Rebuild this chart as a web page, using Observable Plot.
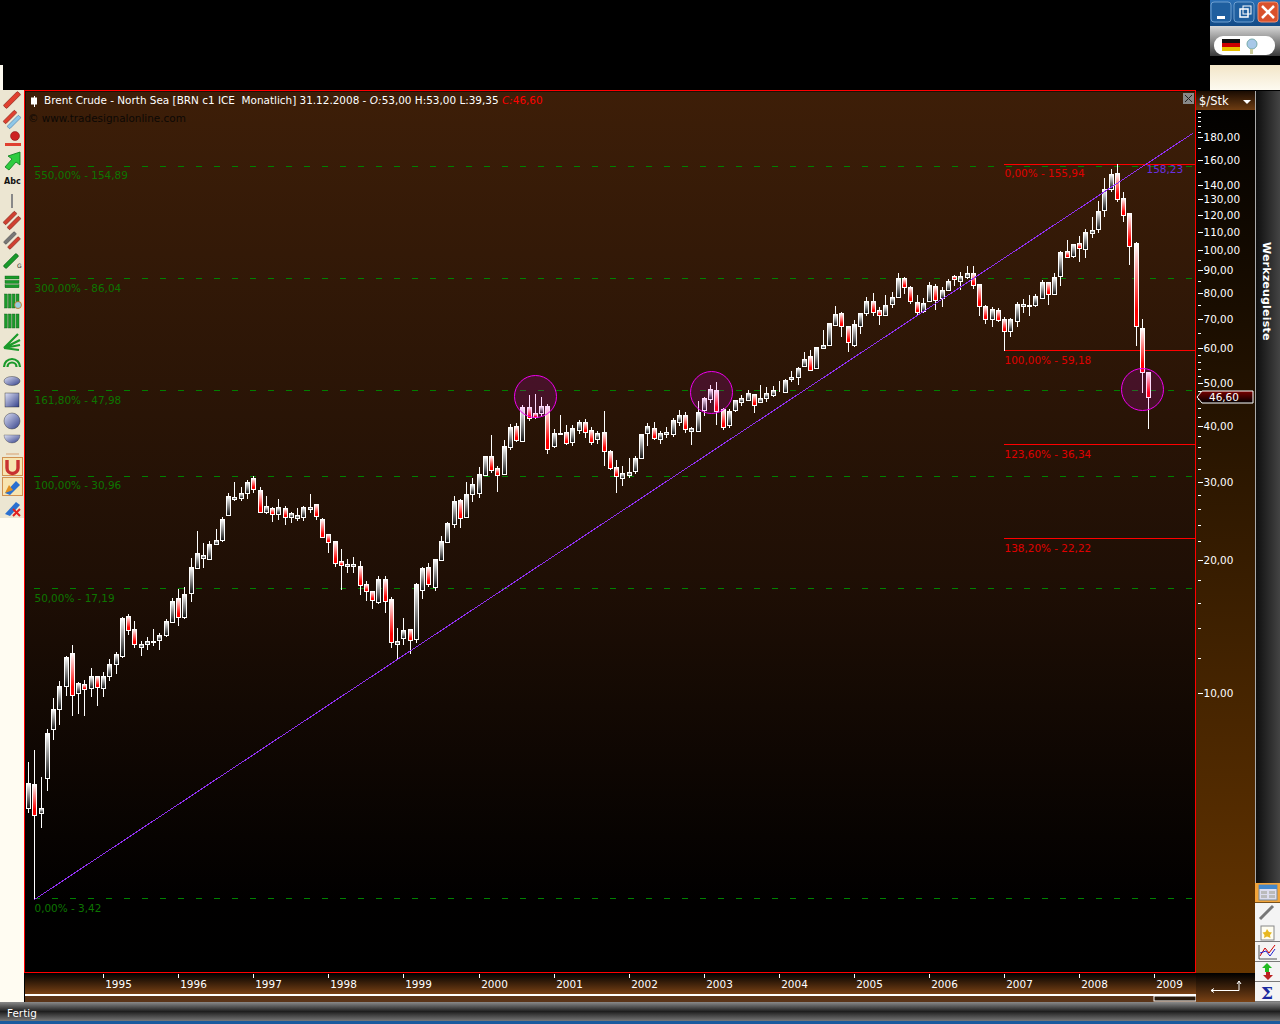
<!DOCTYPE html>
<html><head><meta charset="utf-8">
<script src="https://cdn.jsdelivr.net/npm/d3@7"></script>
<script src="https://cdn.jsdelivr.net/npm/@observablehq/plot@0.6"></script>
<style>
html,body{margin:0;padding:0;background:#000;width:1280px;height:1024px;overflow:hidden}
#wrap{position:relative;width:1280px;height:1024px;font-family:"DejaVu Sans",sans-serif}
#wrap svg{position:absolute;left:0;top:0}
.lbl{position:absolute;white-space:pre;font:10.45px "DejaVu Sans",sans-serif;color:#fff}
</style></head><body>
<div id="wrap">
<svg id="chrome" width="1280" height="1024"></svg>
<div id="plot"></div>
<div class="lbl" style="left:44px;top:94px" id="title"></div>
<div class="lbl" style="left:28px;top:112px;color:#0c0805" id="mark"></div>
</div>
<script>
const title = "Brent Crude - North Sea [BRN c1 ICE  Monatlich] 31.12.2008 - ";
const ohlcLabels = [["O:","53,00 "],["H:","53,00 "],["L:","39,35 "]];
const closeLabel = "C:46,60";
const watermark = "© www.tradesignalonline.com";
const opens = [5.51,6.22,5.37,6.44,8.28,9.19,10.39,12.29,9.98,10.46,10.25,10.9,10.25,10.9,11.61,12.14,14.9,13.92,12.72,12.88,13.06,13.15,13.54,14.49,16.36,14.87,16.79,19.18,20.21,20.1,21.69,22.19,25.27,27.46,27.6,28.23,30.57,28.77,25.66,26.11,25.31,26.11,25.01,24.88,24.92,
26.07,26.66,24.66,22.81,22,19.83,19.38,19.38,19.32,17.59,16.96,16.02,18.05,16.27,12.92,13.29,13.92,13.26,17.05,19.22,17.38,19.96,21.96,24.03,27.22,25.01,28.18,28.33,31.11,34.22,32.15,31.27,35.98,39.99,37.12,44.14,42.79,42.93,44.37,36.17,38.36,38.76,36.93,39.17,40.83,
39.24,37.51,38.76,35.12,32.32,30.63,31,31.76,33.92,38.7,39.58,37.51,38.49,38.49,40.97,42.34,39.03,39.1,43.61,46.18,48.22,43.84,40.34,43.61,45.38,45.94,47.23,45.38,46.42,47.15,47.97,47.89,51.23,51.77,54.82,57.54,54.25,60.19,61.14,67.83,71.95,67.25,61.14,67.48,71.95,
76.71,73.08,71.21,75.4,78.46,86.31,82.36,76.45,72.7,76.58,82.79,77.78,81.37,87.51,85.27,87.06,88.58,83.66,74.62,69.74,73.08,69.74,65.52,69.26,74.88,74.88,75.01,78.05,84.53,79.69,87.21,99.31,97.1,103.53,100.7,109.43,111.34,123.32,137.07,148.96,130.81,121,103.53,66.55,53];
const highs = [7,7.44,6.47,8.29,9.76,10.64,12.12,12.83,10.57,10.7,11.37,10.9,11.13,11.93,12.38,14.84,15.08,14.54,13.1,13.38,13.95,13.66,14.69,16.36,17.17,17.35,20.21,23.21,21.81,22,23.45,24.96,28.28,29.94,29.18,30.2,30.89,29.18,27.84,26.29,27.41,26.43,25.66,26.11,26.48,
28.13,26.71,24.79,22.85,22.04,21.14,20.07,20.28,19.86,17.9,16.99,18.37,18.37,16.44,14.02,14.77,13.95,17.68,19.22,19.69,20.03,22.62,24.28,27.84,27.41,29.94,30.63,32.37,34.28,38.23,32.48,37.25,40.48,40.69,44.6,47.06,47.31,46.58,44.91,39.37,42.42,40.27,40.2,41.33,41.47,
39.85,39.03,43.31,35.36,33.57,32.54,33.92,34.28,38.43,40.69,40.83,39.03,39.85,41.76,43.53,43.01,39.78,45.62,46.66,49.49,50.35,44.06,43.68,45.86,47.06,48.22,47.39,49.49,49.06,49.32,50.62,51.15,53.22,54.44,58.75,59.47,60.3,65.98,68.42,74.75,72.33,67.48,69.38,72.2,78.46,
79.97,74.49,79.28,80.25,88.73,87.06,82.93,79.14,77.78,84.53,83.8,82.36,85.86,87.81,89.04,91.86,92.02,83.8,75.14,74.36,74.1,70.47,70.1,76.45,77.52,79.01,79.42,85.56,84.68,88.73,99.31,105.34,103.35,107.36,111.53,118.71,129.01,145.14,152.35,155.94,135.18,121.21,104.25,69.86,53];
const lows = [5.37,3.42,4.95,6.02,7.83,8.47,9.85,8.87,8.97,8.87,9.81,9.35,9.81,10.66,11.04,12.02,13.52,12.66,12.14,12.5,12.77,12.5,13.4,14.49,14.17,14.69,16.05,19.18,19.15,20,21.54,21.92,25.27,27.13,27.13,27.41,28.28,25.49,25.35,24.32,24.58,23.95,24.2,24.45,24.49,
25.44,24.62,22.46,20.74,19.28,17.08,18.69,18.69,16.67,16.16,15.5,15.91,15.18,12.64,11.89,12.86,12.25,12.99,16.3,17.35,17.02,19.89,21.85,23.62,23.58,24.88,26.99,27.55,30.95,31.38,28.43,31.27,35.36,36.86,37.12,41.11,41.47,42.05,34.69,35.79,38.3,36.29,36.1,38.43,37.64,
36.29,36.55,32.54,31.87,28.33,29.33,30.57,31.21,33.75,36.1,37.25,36.48,37.64,37.9,40.06,38.63,36.29,38.9,42.2,45.15,40.27,39.24,39.71,43.08,44.45,45.86,42.86,45.15,45.38,46.58,47.89,47.64,50.44,49.57,54.72,53.41,54.25,60.19,61.14,67.48,63.73,58.85,60.5,64.62,71.08,
71.08,67.83,71.21,73.85,78.05,79.56,75.4,71.08,72.2,76.32,73.21,74.23,80.95,82.93,81.23,85.86,81.79,71.08,68.19,67.13,68.78,59.18,63.73,67.13,72.2,71.08,74.49,78.05,75.14,79.69,83.08,96.26,96.09,94.12,95.93,106.44,109.43,118.92,135.42,128.11,115.87,92.66,60.82,47.47,39.35];
const closes = [6.25,5.29,5.49,8.11,9.19,10.35,12.04,9.91,10.52,10.23,10.9,10.3,10.9,11.61,12.23,14.74,13.9,12.88,12.88,13.08,13.1,13.5,14.51,16.1,14.82,16.7,19.22,20.67,20.45,21.66,22.11,24.66,27.79,27.65,28.23,29.89,28.92,25.66,26.39,25.31,26.25,25.01,25.44,25.18,26.25,
26.29,25.14,22.54,21.96,19.69,19.48,19.55,19.55,17.56,17.02,16.24,18.05,16.16,13.06,13.1,13.85,13.19,17.59,19.12,17.65,20.03,22,24.15,27.08,24.88,28.08,29.58,31.16,34.22,31.93,31.11,36.04,39.78,37.31,44.14,41.83,41.98,44.37,35.61,38.56,38.56,36.74,39.58,40.83,38.9,
36.93,38.56,35.24,32.2,30.89,31.32,31.6,33.86,38.36,39.99,37.7,38.56,38.83,41.26,42.34,39.51,39.65,43.01,46.26,48.47,43.38,39.92,43.23,45.78,46.42,47.47,44.76,46.42,47.47,48.39,48.14,50.79,51.68,54.06,56.65,53.69,60.3,60.93,68.31,71.58,67.48,62.1,67.95,71.95,76.71,
72.33,71.21,75.01,78.19,86.31,82.36,76.58,72.58,76.05,83.22,77.25,81.09,84.97,85.86,87.51,88.58,83.51,74.62,69.74,73.46,69.5,65.75,69.74,75.4,75.4,75.14,78.6,84.53,79.69,86.76,98.79,96.59,102.99,101.22,109.81,110.76,122.26,137.55,148.19,130.58,119.74,101.92,67.25,52.95,46.6];

const greenLevels = [154.89,86.04,47.98,30.96,17.19,3.42];
const greenLabels = ["550,00% - 154,89","300,00% - 86,04","161,80% - 47,98","100,00% - 30,96","50,00% - 17,19","0,00% - 3,42"];
const redLevels = [155.94,59.18,36.34,22.22];
const redLabels = ["0,00% - 155,94","100,00% - 59,18","123,60% - 36,34","138,20% - 22,22"];
const trendIdx = [1,186];
const trendVal = [3.42,184];
const circleIdx = [81.1,109.1,178.1];
const circleVal = [46.9,47.9,48.5];
const years = [1995,1996,1997,1998,1999,2000,2001,2002,2003,2004,2005,2006,2007,2008,2009];
const majorTicks = [10,20,30,40,50,60,70,80,90,100,110,120,130,140,160,180];
const minorTicks = [12,14,16,18,22,24,26,28,32,34,36,38,42,44,46,48,52,54,56,58,65,75,85,95,150,170,185,190,195,200,205];
const lastPriceLabel = "46,60";

const FONT = '"DejaVu Sans",sans-serif';
const CRISP = "crispEdges";
const candles = opens.map((o,i)=>({i,o,h:highs[i],l:lows[i],c:closes[i]}));
const ups = candles.filter(d=>d.c>=d.o), downs = candles.filter(d=>d.c<d.o);
const fmt = d=>d.toFixed(2).replace(".",",");
const yearIdx = years.map(y=>(y-1994)*12);
const pairs = (a,b)=>a.map((v,i)=>({v,t:b[i]}));
const greenRule = {x1:1,x2:186.5,stroke:"#008000",strokeWidth:1,strokeDasharray:"6,12",shapeRendering:CRISP};
const redRule = {x1:156,x2:186.5,stroke:"#ff0000",strokeWidth:1,shapeRendering:CRISP};
const sameRow = [154.89,30.96,155.94];

const body = f=>({x1:"i",x2:"i",y1:"o",y2:"c",fill:f,stroke:"#fff",strokeWidth:1,insetLeft:-2,insetRight:-2,dx:0.5,dy:0.5,shapeRendering:CRISP});

const chart = Plot.plot({
  width:1280,height:1024,
  marginLeft:25,marginRight:85,marginTop:91,marginBottom:52,
  style:{background:"transparent",fontFamily:FONT,fontSize:"10.45px",color:"#fff"},
  x:{type:"linear",domain:[-0.48,186.5],round:true},
  y:{type:"log",domain:[2.344,228.5],round:true},
  marks:[
    Plot.frame({fill:"url(#bg)",stroke:"none"}),
    Plot.ruleY(greenLevels.filter(v=>!sameRow.includes(v)),{...greenRule,dy:-1}),
    Plot.ruleY(greenLevels.filter(v=>sameRow.includes(v)),greenRule),
    Plot.text(pairs(greenLevels,greenLabels),{x:()=>1,y:"v",text:"t",dy:9,fill:"#0d7500",textAnchor:"start"}),
    Plot.ruleY(redLevels.filter(v=>!sameRow.includes(v)),{...redRule,dy:-1}),
    Plot.ruleY(redLevels.filter(v=>sameRow.includes(v)),redRule),
    Plot.text(pairs(redLevels,redLabels),{x:()=>156,y:"v",text:"t",dy:9,fill:"#e00000",textAnchor:"start"}),
    Plot.ruleX(candles,{x:"i",y1:"l",y2:"h",stroke:"#fff",strokeWidth:1,shapeRendering:CRISP}),
    Plot.rect(ups,body("url(#up)")),
    Plot.rect(downs,body("url(#dn)")),
    Plot.line(trendIdx.map((x,k)=>({x,y:trendVal[k]})),{x:"x",y:"y",stroke:"#9030f0",strokeWidth:1,shapeRendering:CRISP}),
    Plot.text(["158,23"],{x:()=>178.7,y:()=>155.94,dy:5,fill:"#6a2fe0",textAnchor:"start"}),
    Plot.dot(circleIdx.map((x,k)=>({x,y:circleVal[k]})),{x:"x",y:"y",r:21,stroke:"#f000f0",strokeWidth:1,fill:"#f000f0",fillOpacity:0.14}),
    Plot.frame({stroke:"#ff0000",strokeWidth:1,fill:"none",insetLeft:-1,insetTop:-1,shapeRendering:CRISP}),
    Plot.axisY(minorTicks,{anchor:"right",label:null,tickSize:3,tickPadding:0,tickFormat:()=>"",stroke:"#fff",dx:2,shapeRendering:CRISP}),
    Plot.axisY(majorTicks,{anchor:"right",label:null,tickSize:5,tickPadding:1,tickFormat:fmt,stroke:"#fff",fill:"#fff",dx:2,shapeRendering:CRISP}),
    Plot.axisX(yearIdx,{anchor:"bottom",label:null,tickSize:4,tickPadding:0,tickFormat:()=>"",stroke:"#fff",dy:2,shapeRendering:CRISP}),
    Plot.axisX(yearIdx,{anchor:"bottom",label:null,tickSize:0,tickPadding:8,tickFormat:i=>String(years[yearIdx.indexOf(i)]),fill:"#fff",dx:15,textAnchor:"middle"})
  ]
});
document.getElementById("plot").appendChild(chart);

document.getElementById("title").innerHTML = title +
  ohlcLabels.map(([a,b])=>(a==="O:"?`<i>${a}</i>`:a)+b).join("") +
  `<i style="color:#f00">${closeLabel.slice(0,2)}</i><span style="color:#f00">${closeLabel.slice(2)}</span>`;
document.getElementById("mark").textContent = watermark;

/* window furniture */
const R=(x,y,w,h,f,extra="")=>`<rect x="${x}" y="${y}" width="${w}" height="${h}" fill="${f}" ${extra}/>`;
const T=(x,y,s,f="#fff",size=10.45,extra="")=>`<text x="${x}" y="${y}" fill="${f}" font-family='${FONT}' font-size="${size}" ${extra}>${s}</text>`;
const L=(x1,y1,x2,y2,s,w=1)=>`<line x1="${x1}" y1="${y1}" x2="${x2}" y2="${y2}" stroke="${s}" stroke-width="${w}"/>`;
const bar=(cx,cy,c,c2="#7a1a10",len=20,th=4.6)=>`<g transform="translate(${cx} ${cy}) rotate(-45)"><rect x="${-len/2}" y="${-th/2}" width="${len}" height="${th}" rx="1" fill="${c}" stroke="${c2}" stroke-width=".6"/></g>`;
const greenBars=(cy,n=3)=>Array.from({length:n},(_,k)=>R(5,cy-6+k*4.4,14,3,"#1a9a2a",'stroke="#0a5a14" stroke-width=".4"')).join("");
const vBars=(cy)=>Array.from({length:4},(_,k)=>R(4.5+k*3.9,cy-7,2.8,14,"#1a9a2a",'stroke="#0a5a14" stroke-width=".4"')).join("");
let c=`<defs>
<linearGradient id="bg" x1="0" y1="0" x2="0" y2="1"><stop offset="0" stop-color="#3d1e08"/><stop offset=".55" stop-color="#1f0f05"/><stop offset=".92" stop-color="#010000"/><stop offset="1" stop-color="#000"/></linearGradient>
<linearGradient id="up" x1="0" y1="0" x2="0" y2="1"><stop offset="0" stop-color="#fff"/><stop offset="1" stop-color="#111"/></linearGradient>
<linearGradient id="dn" x1="0" y1="0" x2="0" y2="1"><stop offset="0" stop-color="#fff"/><stop offset=".8" stop-color="#f00"/><stop offset="1" stop-color="#f00"/></linearGradient>
<linearGradient id="axisY" x1="0" y1="0" x2="0" y2="1"><stop offset="0" stop-color="#000"/><stop offset="1" stop-color="#663500"/></linearGradient>
<linearGradient id="axisX" x1="0" y1="0" x2="0" y2="1"><stop offset="0" stop-color="#000"/><stop offset="1" stop-color="#7a4215"/></linearGradient>
<linearGradient id="head" x1="0" y1="0" x2="0" y2="1"><stop offset="0" stop-color="#1a0c02"/><stop offset="1" stop-color="#6e3c12"/></linearGradient>
<linearGradient id="side" x1="0" y1="0" x2="1" y2="0"><stop offset="0" stop-color="#0c0c0c"/><stop offset="1" stop-color="#444"/></linearGradient>
<linearGradient id="status" x1="0" y1="0" x2="0" y2="1"><stop offset="0" stop-color="#8a8a8a"/><stop offset=".5" stop-color="#1e1e1e"/><stop offset="1" stop-color="#777"/></linearGradient>
<linearGradient id="blue" x1="0" y1="0" x2="0" y2="1"><stop offset="0" stop-color="#2a6fb5"/><stop offset="1" stop-color="#124a86"/></linearGradient>
<linearGradient id="gray" x1="0" y1="0" x2="0" y2="1"><stop offset="0" stop-color="#d8d8d8"/><stop offset="1" stop-color="#3a3a3a"/></linearGradient>
<linearGradient id="cream" x1="0" y1="0" x2="0" y2="1"><stop offset="0" stop-color="#f3e6c8"/><stop offset="1" stop-color="#fdfaf0"/></linearGradient>
<linearGradient id="price" x1="0" y1="0" x2="0" y2="1"><stop offset="0" stop-color="#7a0000"/><stop offset="1" stop-color="#000"/></linearGradient>
<linearGradient id="ball" x1="0" y1="0" x2="1" y2="1"><stop offset="0" stop-color="#dfe2f5"/><stop offset="1" stop-color="#33408a"/></linearGradient>
</defs>`;
c+=R(0,0,1280,1024,"#000");
/* top strip */
c+=R(0,65,3,25,"#fdfaf0");
c+=R(1210,0,70,26,"url(#blue)");
c+=R(1210,26,70,30,"url(#gray)");
c+=R(1210,65,70,25,"url(#cream)");
c+=R(1211,2,20,20,"#1f5f9f",'rx="3" stroke="#6fa0d0"')+R(1217,16,8,3,"#fff");
c+=R(1234,2,20,20,"#1f5f9f",'rx="3" stroke="#6fa0d0"')+R(1240,9,8,8,"none",'stroke="#fff" stroke-width="1.5"')+R(1243,6,8,8,"none",'stroke="#fff" stroke-width="1"');
c+=R(1258,2,20,20,"#d9512c",'rx="3" stroke="#f09070"')+L(1262,6,1274,18,"#fff",2.5)+L(1274,6,1262,18,"#fff",2.5);
c+=R(1214,36,61,19,"#fff",'rx="9"');
c+=R(1222,39,18,4,"#111")+R(1222,43,18,4,"#c00")+R(1222,47,18,4,"#e8c000");
c+=`<circle cx="1252" cy="44" r="5" fill="#a8c8e8" stroke="#7aa"/>`+R(1250,49,3,5,"#cc9");
/* left toolbar */
c+=R(0,90,24,428,"#ece6d2")+R(0,518,24,485,"#fffcf2");
c+=bar(12,100,"#e04030");
c+=bar(10,117,"#e04030","#7a1a10",16,3.6)+bar(14,122,"#8fc8e8","#47a",16,3.6);
c+=`<circle cx="15" cy="136" r="4.5" fill="#c22" stroke="#711" stroke-width=".5"/>`+R(5,143,16,3,"#e04030");
c+=`<path d="M5 167 L12 159 L8 156 L20 152 L20 165 L16 162 L9 170 Z" fill="#2ecc40" stroke="#0a7a1a" stroke-width=".8"/>`;
c+=T(4,184,"Abc","#111",8,'font-weight="bold"');
c+=R(11,194,2,14,"#888");
c+=bar(10,218,"#d04030","#7a1a10",16,3.6)+bar(14,223,"#d04030","#7a1a10",16,3.6);
c+=bar(10,238,"#777","#444",15,3.4)+bar(14,243,"#d04030","#7a1a10",15,3.4);
c+=bar(11,261,"#1a9a2a","#0a5a14",18,4)+T(17,268,"G","#222",6);
c+=greenBars(282)+vBars(301)+`<circle cx="18" cy="305" r="3.5" fill="#9cd" stroke="#c60" stroke-width=".7"/>`+vBars(321);
c+=`<path d="M4 348 L18 334 M4 348 L20 340 M4 348 L20 345 M4 348 L19 350" stroke="#1a9a2a" stroke-width="2.2"/>`;
c+=`<path d="M4 367 a8 8 0 0 1 16 0 M7.5 367 a4.5 4.5 0 0 1 9 0" stroke="#1a9a2a" stroke-width="2.2" fill="none"/>`;
c+=`<ellipse cx="12" cy="381" rx="8" ry="4.5" fill="url(#ball)" stroke="#222" stroke-width=".4"/>`;
c+=R(5,393,14,14,"url(#ball)",'stroke="#222" stroke-width=".4"');
c+=`<circle cx="12" cy="421" r="8" fill="url(#ball)" stroke="#222" stroke-width=".4"/>`;
c+=`<path d="M4 435 h16 a8 8 0 0 1 -16 0 Z" fill="url(#ball)" stroke="#222" stroke-width=".3"/>`;
c+=L(6,454,19,454,"#d8a070");
c+=R(2.5,457.5,20,18,"#f7e4b0",'stroke="#d09050"')+`<path d="M7 460 v8 a5.5 5.5 0 0 0 11 0 v-8" stroke="#c83030" stroke-width="3.4" fill="none"/>`;
c+=R(2.5,477.5,20,18,"#f7e4b0",'stroke="#d09050"')+`<path d="M5 493 L16 481 L20 485 L10 495 Z" fill="#2a70d0"/><path d="M5 493 L9 485 L13 490 Z" fill="#e09020"/>`;
c+=`<path d="M5 514 L16 502 L20 505 L10 516 Z" fill="#2a70d0"/><path d="M13 509 L20 516 M20 509 L13 516" stroke="#e02020" stroke-width="2"/>`;
/* right panel */
c+=R(1196,91,59,882,"url(#axisY)");
c+=R(1196,91,59,19,"url(#head)");
c+=T(1199,105,"$/Stk","#fff",11.5);
c+=`<path d="M1243 100 h8 l-4 4 Z" fill="#fff"/>`;
c+=R(1255,91,25,792,"url(#side)")+L(1255.5,91,1255.5,883,"#aaa");
c+=`<text transform="translate(1263 242) rotate(90)" fill="#fff" font-family='${FONT}' font-size="11" font-weight="bold" letter-spacing=".2">Werkzeugleiste</text>`;
/* bottom */
c+=R(25,973,1171,21,"url(#axisX)");
c+=R(25,994,1171,2,"#fff");
c+=R(25,996,1171,6,"#5a3418")+R(1154,996,42,5,"#2a1a0c",'stroke="#fff"');
c+=R(1196,973,59,29,"url(#axisX)");
c+=`<path d="M1239 981 v9.5 h-28 M1211 990.5 l3 -2 M1211 990.5 l3 2 M1239 981 l-2 3 M1239 981 l2 3" stroke="#fff" fill="none"/>`;
c+=R(0,1002,1280,19,"url(#status)")+R(0,1021,1280,3,"#1a5a9e");
c+=T(7,1017,"Fertig","#fff",10.45);
/* side icons */
[883,903,922,942,962,982].forEach((y,k)=>{c+=R(1255,y,25,19.5,k==0?"#f2a43a":"#f4f4f4");});
c+=R(1259,885,18,15,"#dde","stroke=\"#789\"")+R(1259,885,18,4,"#4488cc")+R(1261,891,6,3,"#bbb")+R(1269,891,6,3,"#bbb")+R(1261,895,6,3,"#bbb")+R(1269,895,6,3,"#bbb");
c+=L(1260,919,1273,906,"#777",3);
c+=R(1261,926,13,14,"#fffdf0",'stroke="#888"')+`<path d="M1267 929 l2 3 3 .5 -2 2.5 .5 3 -3.5 -1.5 -3 1.5 .5 -3 -2 -2.5 3 -.5 Z" fill="#e8b820"/>`;
c+=`<path d="M1260 956 L1265 948 L1269 953 L1275 945" stroke="#c00" fill="none"/><path d="M1260 953 L1266 951 L1270 956 L1275 949" stroke="#22c" fill="none"/>`+L(1259,945,1259,959,"#555")+L(1259,959,1277,959,"#555");
c+=`<path d="M1267 963 l5 5 h-3 v4 h-4 v-4 h-3 Z" fill="#2b2"/><path d="M1268 980 l-5 -5 h3 v-3 h4 v3 h3 Z" fill="#b22"/>`;
c+=`<text x="1261" y="999" font-family="DejaVu Serif" font-size="17" font-weight="bold" fill="#1a2aa0">Σ</text>`;
document.getElementById("chrome").innerHTML=c;

/* elements above the plot */
const over=document.createElementNS("http://www.w3.org/2000/svg","svg");
over.setAttribute("width",1280);over.setAttribute("height",1024);
over.innerHTML=`<path d="M1197 397 L1202 391 H1253 V403 H1202 Z" fill="url(#price)" stroke="#fff"/>`+
 T(1209,401,lastPriceLabel,"#fff")+
 R(1183,93,11,11,"#888")+L(1185,95,1192,102,"#222",1)+L(1192,95,1185,102,"#222",1)+
 L(34.5,96,34.5,107,"#fff")+R(31,97.5,6,7,"#fff");
document.getElementById("wrap").insertBefore(over,document.getElementById("title"));
</script></body></html>
